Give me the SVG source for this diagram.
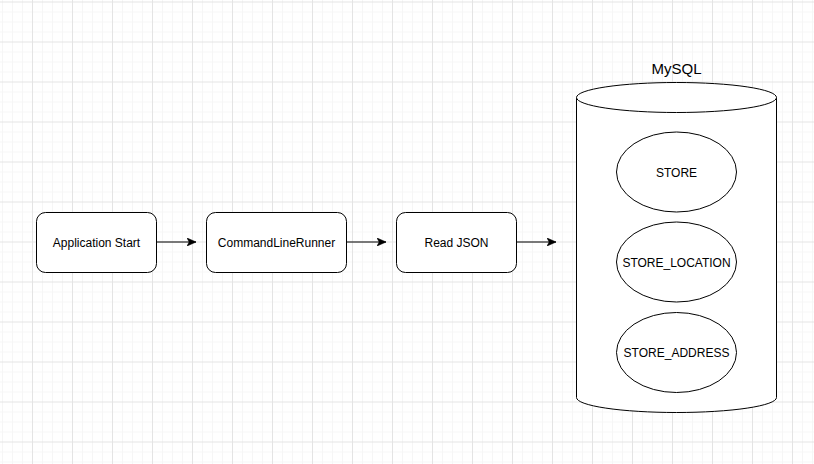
<svg xmlns="http://www.w3.org/2000/svg" width="814" height="464" viewBox="0 0 814 464">
<style>
.box{fill:#ffffff;stroke:#000000;stroke-width:1}
.shape{fill:#ffffff;stroke:#000000;stroke-width:1}
.lbl{font-family:"Liberation Sans",Arial,sans-serif;font-size:12px;fill:#000000;text-anchor:middle}
.title{font-family:"Liberation Sans",Arial,sans-serif;font-size:15px;fill:#000000;text-anchor:middle}
.edge{stroke:#000000;stroke-width:1;fill:none}
</style>
<defs>
<pattern id="grid" patternUnits="userSpaceOnUse" x="32" y="1.5" width="40" height="40">
<rect x="10" y="0" width="1" height="40" fill="#f6f6f6"/>
<rect x="20" y="0" width="1" height="40" fill="#f6f6f6"/>
<rect x="30" y="0" width="1" height="40" fill="#f6f6f6"/>
<rect x="0" y="10" width="40" height="1" fill="#f6f6f6"/>
<rect x="0" y="20" width="40" height="1" fill="#f6f6f6"/>
<rect x="0" y="30" width="40" height="1" fill="#f6f6f6"/>
<rect x="0" y="0" width="1" height="40" fill="#e4e4e4"/>
<rect x="0" y="0" width="40" height="1" fill="#e4e4e4"/>
</pattern>
<marker id="arrow" viewBox="0 0 9 8" refX="9" refY="4" markerWidth="9" markerHeight="8" markerUnits="userSpaceOnUse" orient="auto">
<path d="M0,0 L9,4 L0,8 L2.2,4 Z" fill="#000000" stroke="#000000" stroke-width="0.6"/>
</marker>
</defs>
<rect width="814" height="464" fill="#ffffff"/>
<rect width="814" height="464" fill="url(#grid)"/>
<g id="connectors">
<line class="edge" x1="156" y1="242" x2="196" y2="242" marker-end="url(#arrow)"/>
<line class="edge" x1="346" y1="242" x2="386" y2="242" marker-end="url(#arrow)"/>
<line class="edge" x1="516" y1="242" x2="556" y2="242" marker-end="url(#arrow)"/>
</g>
<g id="node-app-start">
<rect class="box" x="36.5" y="212.5" width="120" height="60" rx="9" ry="9"/>
<text class="lbl" x="96.5" y="246.5">Application Start</text>
</g>
<g id="node-clr">
<rect class="box" x="206.5" y="212.5" width="140" height="60" rx="9" ry="9"/>
<text class="lbl" x="276.5" y="246.5">CommandLineRunner</text>
</g>
<g id="node-read-json">
<rect class="box" x="396.5" y="212.5" width="120" height="60" rx="9" ry="9"/>
<text class="lbl" x="456.5" y="246.5">Read JSON</text>
</g>
<g id="node-mysql">
<path class="shape" d="M576.5,97.5 A100,15 0 0 1 776.5,97.5 L776.5,397.5 A100,15 0 0 1 576.5,397.5 Z"/>
<path class="shape" d="M576.5,97.5 A100,15 0 0 0 776.5,97.5"/>
<text class="title" x="676.5" y="74">MySQL</text>
</g>
<g id="node-store">
<ellipse class="shape" cx="676.5" cy="172" rx="60" ry="40"/>
<text class="lbl" x="676.5" y="176.5">STORE</text>
</g>
<g id="node-store-location">
<ellipse class="shape" cx="676.5" cy="262" rx="60" ry="40"/>
<text class="lbl" x="676.5" y="266.5">STORE_LOCATION</text>
</g>
<g id="node-store-address">
<ellipse class="shape" cx="676.5" cy="352.5" rx="60" ry="40"/>
<text class="lbl" x="676.5" y="357">STORE_ADDRESS</text>
</g>
</svg>
